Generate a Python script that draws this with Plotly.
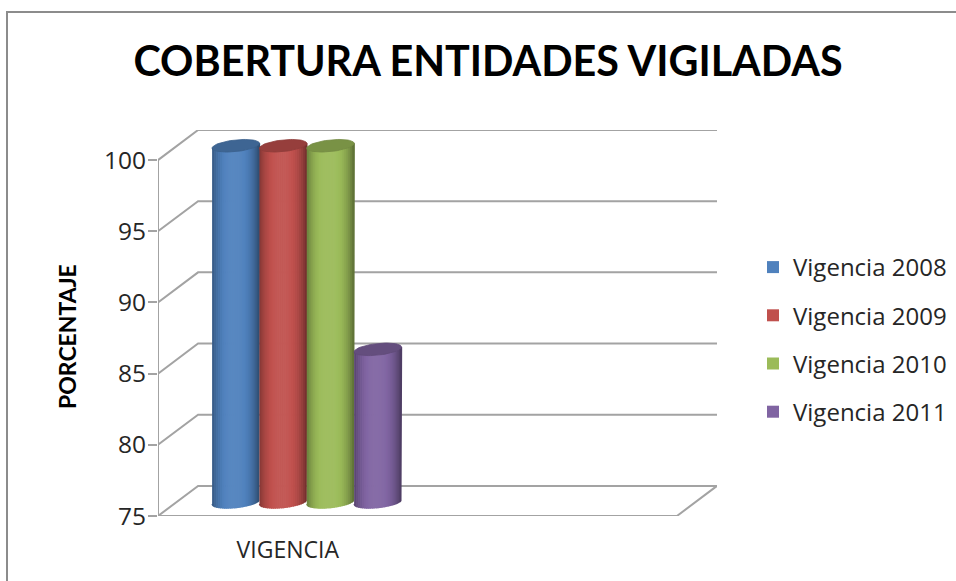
import numpy as np
import plotly.graph_objects as go

# ---- data ----
CATEGORIES = ["VIGENCIA", ""]
SERIES = ["Vigencia 2008", "Vigencia 2009", "Vigencia 2010", "Vigencia 2011"]
VALUES = [100, 100, 100, 85.7]
Y_TICKS = [75, 80, 85, 90, 95, 100]
COLORS = ["#4f81bd", "#c0504d", "#9bbb59", "#8064a2"]
TITLE = "COBERTURA ENTIDADES VIGILADAS"
Y_TITLE = "PORCENTAJE"

# ---- geometry of the oblique projection ----
W, H = 956, 581
L, R, T, B = 158, 717, 130, 516
PX_X = 259.0            # pixels per category
PX_Y = 14.2             # pixels per percentage point
DX = 40 / PX_X          # wall depth, data units
DY = 30 / PX_Y
BASE = 75
BAR_W = 47.25 / PX_X
A = BAR_W / 2
Bv = 5.8 / PX_Y
TILT = 0.1 * PX_X / PX_Y
XMIN, XMAX = -0.5, 1.5 + DX
YMIN, YMAX = BASE, 100 + DY
GRID = "#a3a3a3"

def shade(hexc, f):
    r, g, b = [int(hexc[i:i + 2], 16) for i in (1, 3, 5)]
    if f >= 1:
        c = [v + (255 - v) * (f - 1) for v in (r, g, b)]
    else:
        c = [v * f for v in (r, g, b)]
    return "rgb(%d,%d,%d)" % tuple(min(255, round(v)) for v in c)

fig = go.Figure()

def line(xs, ys, color=GRID, width=2):
    fig.add_trace(go.Scatter(x=xs, y=ys, mode="lines", showlegend=False, hoverinfo="skip",
                             cliponaxis=False, line=dict(color=color, width=width)))

# walls and floor
for v in Y_TICKS:
    if v != BASE:
        line([XMIN, XMIN + DX, XMAX], [v, v + DY, v + DY])
line([XMIN, XMIN], [BASE, 100])
line([XMIN, XMIN + DX, XMAX, XMAX - DX, XMIN], [BASE, BASE + DY, BASE + DY, BASE, BASE])

# cylinders, one per series, centred on the first category at mid depth
n = len(VALUES)
N = 24
for i, (name, val, col) in enumerate(zip(SERIES, VALUES, COLORS)):
    cx = DX / 2 - 1 / PX_X + (i - (n - 1) / 2) * BAR_W
    c_top = val + DY / 2 - 0.7 / PX_Y
    c_bot = BASE + DY / 2 - 0.7 / PX_Y
    us = np.linspace(-1, 1, N + 1)
    for u0, u1 in zip(us[:-1], us[1:]):
        um = (u0 + u1) / 2
        f = 1.05 - 0.42 * abs(um + 0.05) ** 2.6
        seg = np.linspace(u0, u1, 4)
        xs = cx + A * seg
        arc = Bv * np.sqrt(np.clip(1 - seg ** 2, 0, 1))
        y_up = c_top - arc + TILT * A * seg
        y_dn = c_bot - arc + TILT * A * seg
        c = shade(col, f)
        fig.add_trace(go.Scatter(
            x=np.r_[xs, xs[::-1]], y=np.r_[y_up, y_dn[::-1]], mode="lines", fill="toself",
            fillcolor=c, line=dict(color=c, width=1.5), showlegend=False, hoverinfo="skip"))
    th = np.linspace(0, 2 * np.pi, 61)
    ex = cx + A * np.cos(th)
    ey = c_top + Bv * np.sin(th) + TILT * A * np.cos(th)
    fig.add_trace(go.Scatter(x=ex, y=ey, mode="lines", fill="toself", fillcolor=shade(col, 0.78),
                             line=dict(color=shade(col, 0.74), width=0.8), showlegend=False, hoverinfo="skip"))

# legend entries
for name, col in zip(SERIES, COLORS):
    fig.add_trace(go.Scatter(x=[None], y=[None], mode="markers", name=name, legendgroup=name,
                             marker=dict(symbol="square", size=15, color=col)))

FONT = "Open Sans"
fig.update_layout(
    width=W, height=H, autosize=False,
    margin=dict(l=L, r=W - R, t=T, b=H - B, pad=0),
    paper_bgcolor="white", plot_bgcolor="white",
    font=dict(family=FONT, color="#262626"),
    title=dict(text="<b>%s</b>" % TITLE, x=488 / W, y=1 - 62 / H, xanchor="center", yanchor="middle",
               font=dict(family="Lato", size=41.3, color="#000000")),
    xaxis=dict(range=[XMIN, XMAX], tickmode="array", tickvals=[0, 1], ticktext=CATEGORIES,
               showgrid=False, zeroline=False, showline=False, ticks="", ticklabelstandoff=18,
               tickfont=dict(family=FONT, size=23)),
    yaxis=dict(range=[YMIN, YMAX], tickmode="array", tickvals=Y_TICKS, showgrid=False, zeroline=False,
               showline=False, ticks="outside", ticklen=9, tickwidth=2, tickcolor=GRID,
               tickfont=dict(family=FONT, size=24.5), ticklabelstandoff=-3),
    annotations=[dict(text="<b>%s</b>" % Y_TITLE, textangle=-90, showarrow=False,
                      xref="paper", yref="paper",
                      x=(67 - L) / (R - L), y=(B - 337) / (B - T), xanchor="center", yanchor="middle",
                      font=dict(family="Lato", size=23, color="#000000"))],
    legend=dict(x=753 / W, y=1 - 245 / H, xref="container", yref="container", xanchor="left", yanchor="top",
                font=dict(family=FONT, size=24), tracegroupgap=14, itemsizing="constant", itemwidth=30,
                bgcolor="rgba(0,0,0,0)"),
    shapes=[dict(type="path", xref="paper", yref="paper", layer="above",
                 path="M %f %f L %f %f L %f %f" % (
                     (7 - L) / (R - L), (B - 585) / (B - T),
                     (7 - L) / (R - L), (B - 12) / (B - T),
                     (960 - L) / (R - L), (B - 12) / (B - T)),
                 line=dict(color="#8c8c8c", width=2))],
)
fig.write_html("out.html", post_script="document.body.style.margin='0';",
               config={"displayModeBar": False})
